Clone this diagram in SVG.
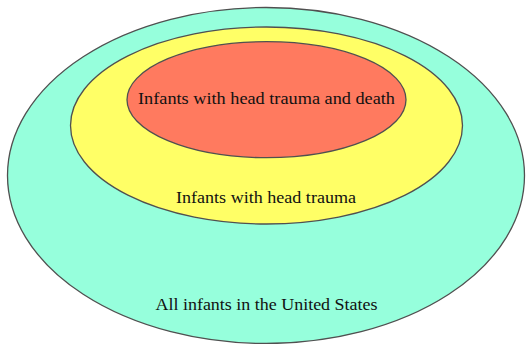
<svg xmlns="http://www.w3.org/2000/svg" width="529" height="344" viewBox="0 0 529 344">
<style>
.set{stroke:#505050;stroke-width:1.3}
.lbl{font-family:"Liberation Serif","DejaVu Serif",serif;font-size:16px;fill:#111111;text-anchor:middle}
</style>
<rect width="529" height="344" fill="#ffffff"/>
<g id="all-infants">
<ellipse class="set" cx="266" cy="175.5" rx="258.5" ry="168" fill="#96FFDC"/>
<text class="lbl" x="266.5" y="310" textLength="222" lengthAdjust="spacingAndGlyphs">All infants in the United States</text>
</g>
<g id="head-trauma">
<ellipse class="set" cx="266.5" cy="125.5" rx="196" ry="98.5" fill="#FFFF66"/>
<text class="lbl" x="266" y="202.5" textLength="180" lengthAdjust="spacingAndGlyphs">Infants with head trauma</text>
</g>
<g id="head-trauma-death">
<ellipse class="set" cx="266.5" cy="99.7" rx="139.5" ry="58" fill="#FF7A5F"/>
<text class="lbl" x="266.5" y="103.5" textLength="257" lengthAdjust="spacingAndGlyphs">Infants with head trauma and death</text>
</g>
<g id="connectors"/>
</svg>
